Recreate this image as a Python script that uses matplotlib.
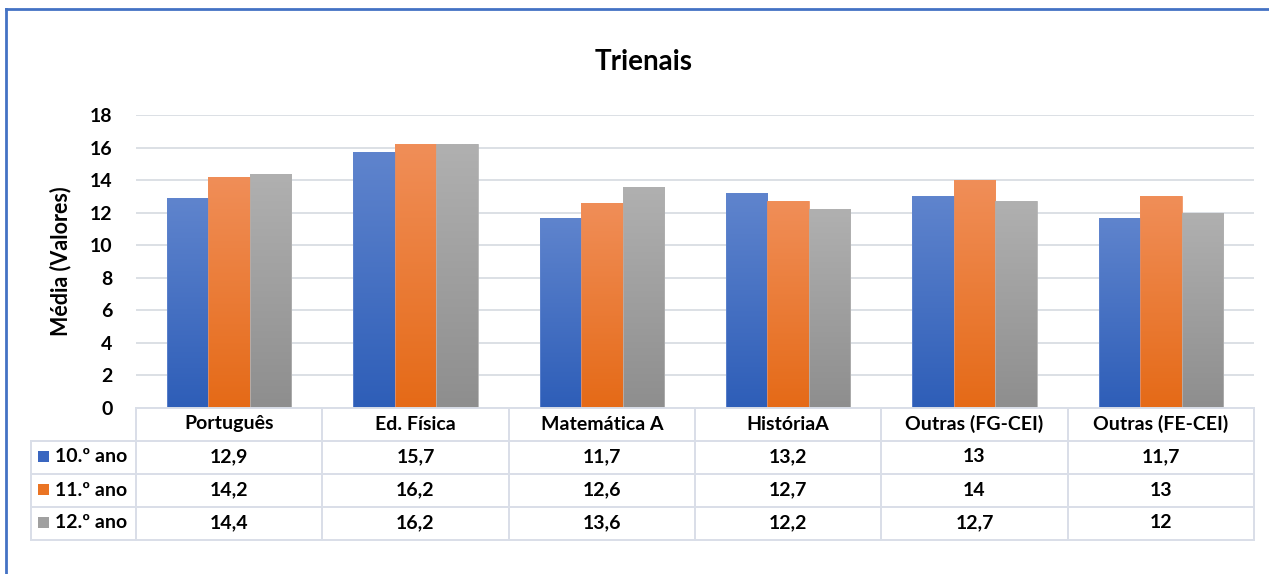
import matplotlib
matplotlib.use("Agg")
import matplotlib.pyplot as plt
import numpy as np
from matplotlib.colors import LinearSegmentedColormap
from matplotlib.patches import Rectangle

matplotlib.rcParams["font.family"] = ["Lato", "DejaVu Sans"]
matplotlib.rcParams["font.weight"] = "bold"

categories = ["Português", "Ed. Física", "Matemática A", "HistóriaA",
              "Outras (FG-CEI)", "Outras (FE-CEI)"]
series = ["10.º ano", "11.º ano", "12.º ano"]
ano10 = [12.9, 15.7, 11.7, 13.2, 13, 11.7]
ano11 = [14.2, 16.2, 12.6, 12.7, 14, 13]
ano12 = [14.4, 16.2, 13.6, 12.2, 12.7, 12]
values = [ano10, ano11, ano12]

# top / bottom colours of the gradient fills
grad = [("#5f84cd", "#2e5eb8"), ("#f08e58", "#e56a17"), ("#b0b0b0", "#8e8e8e")]
legend_cols = ["#3a66c0", "#ea7424", "#a0a0a0"]

W, H = 1269, 574
fig = plt.figure(figsize=(W / 100, H / 100), dpi=100)

# plot area in pixels
x0, x1, ytop, ybot = 136, 1254, 115, 408
ax = fig.add_axes([x0 / W, 1 - ybot / H, (x1 - x0) / W, (ybot - ytop) / H])

n = len(categories)
width = 0.222
xs = np.arange(n)
for k, (vals, (ctop, cbot)) in enumerate(zip(values, grad)):
    cmap = LinearSegmentedColormap.from_list("g%d" % k, [cbot, ctop])
    bars = ax.bar(xs + (k - 1) * width, vals, width, color="none",
                  edgecolor=ctop, linewidth=0.6, zorder=3)
    for b in bars:
        bx, bw, bh = b.get_x(), b.get_width(), b.get_height()
        img = ax.imshow(np.linspace(0, 1, 100).reshape(-1, 1), cmap=cmap,
                        origin="lower", extent=[bx, bx + bw, 0, bh],
                        aspect="auto", zorder=2)
        img.set_clip_path(b)

ax.set_xlim(-0.5, n - 0.5)
ax.set_ylim(0, 18)
ax.set_yticks(np.arange(0, 19, 2))
ax.set_xticks([])
ax.tick_params(axis="y", length=0, labelsize=14, pad=17)
for lab in ax.get_yticklabels():
    lab.set_fontweight("bold")
ax.grid(True, axis="y", color="#d9dde3", linewidth=1.3, zorder=0)
for s in ax.spines.values():
    s.set_visible(False)

ax.set_ylabel("Média (Valores)", fontsize=15.5, fontweight="bold")
ax.yaxis.set_label_coords((71 - x0) / (x1 - x0), 0.5)

fig.text(644 / W, 1 - 62 / H, "Trienais", ha="center", va="center",
         fontsize=20, fontweight="bold")

# data table below the plot, in figure pixel coords
def fx(px):
    return px / W

def fy(py):
    return 1 - py / H

line_c = "#d9dee8"
lw = 1.4
row_y = [408, 441, 474, 507, 540]
col_x = [x0 + i * (x1 - x0) / n for i in range(n + 1)]
tab_left = 31
fs = 14

for i, py in enumerate(row_y):
    left = x0 if i == 0 else tab_left
    fig.add_artist(plt.Line2D([fx(left), fx(x1)], [fy(py), fy(py)],
                              color=line_c, linewidth=lw))
for cx in col_x:
    fig.add_artist(plt.Line2D([fx(cx), fx(cx)], [fy(408), fy(540)],
                              color=line_c, linewidth=lw))
fig.add_artist(plt.Line2D([fx(tab_left), fx(tab_left)], [fy(441), fy(540)],
                          color=line_c, linewidth=lw))

for i, cat in enumerate(categories):
    cx = (col_x[i] + col_x[i + 1]) / 2
    fig.text(fx(cx), fy(424), cat, ha="center", va="center",
             fontsize=fs, fontweight="bold")
    for r, vals in enumerate(values):
        txt = ("%g" % vals[i]).replace(".", ",")
        fig.text(fx(cx), fy(457 + 33 * r), txt, ha="center", va="center",
                 fontsize=fs, fontweight="bold")

for r, (name, c) in enumerate(zip(series, legend_cols)):
    yc = 457 + 33 * r
    fig.add_artist(Rectangle((fx(38), fy(yc + 5)), 11 / W, 11 / H,
                             facecolor=c, edgecolor="none",
                             transform=fig.transFigure))
    fig.text(fx(55), fy(yc), name, ha="left", va="center",
             fontsize=fs, fontweight="bold")

# chart border (left and top edges visible)
border = "#4472c4"
fig.add_artist(plt.Line2D([fx(6), fx(6)], [fy(9), 0], color=border, linewidth=2))
fig.add_artist(plt.Line2D([fx(6), 1], [fy(9), fy(9)], color=border, linewidth=2))

fig.savefig("out.png", dpi=100)
